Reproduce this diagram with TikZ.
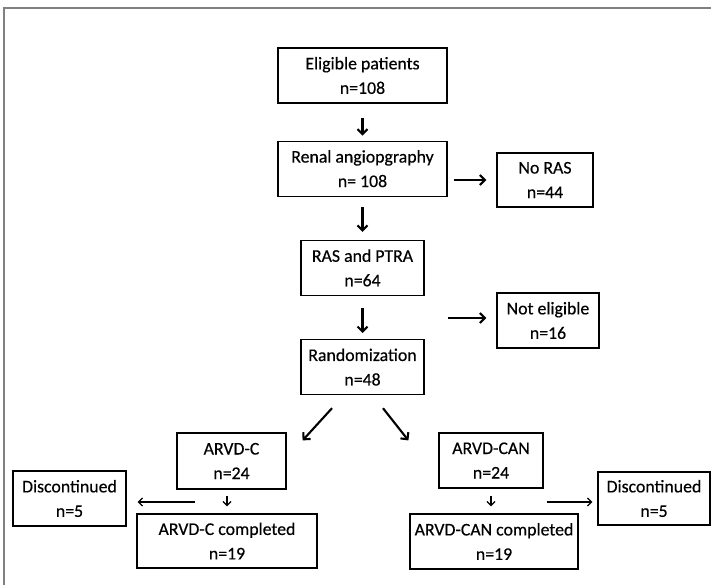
\documentclass[tikz,border=0pt]{standalone}
\usepackage{fontspec}
\setmainfont{Carlito}[FakeBold=0.4]
\usetikzlibrary{arrows.meta,positioning,calc}

\begin{document}
\begin{tikzpicture}[
    x=1pt, y=-1pt,
    every node/.style={font=\fontsize{17.8}{24.5}\selectfont},
    box/.style={
      rectangle, draw, line width=1.2pt,
      inner sep=0pt, align=center
    },
    arr/.style={-{Straight Barb[length=5pt,width=10pt]}, line width=2.1pt},
    arrthin/.style={-{Straight Barb[length=4pt,width=8pt]}, line width=1.3pt}
  ]
  \useasboundingbox (0,0) rectangle (711,585);

  % Frame
  \draw[gray, line width=2pt] (4,585) -- (4,8) -- (711,8);

  % Main column
  \node[box, minimum width=169pt, minimum height=55pt] (elig) at (362.5,75.5) {Eligible patients\\n=108};
  \node[box, minimum width=169pt, minimum height=55pt, below=37pt of elig] (renal) {Renal angiopgraphy\\n= 108};
  \node[box, minimum width=123pt, minimum height=55pt, below=43pt of renal] (ptra) {RAS and PTRA\\n=64};
  \node[box, minimum width=123pt, minimum height=55pt, below=43pt of ptra] (rand) {Randomization\\n=48};

  % Exclusions
  \node[box, minimum width=96pt, minimum height=54pt] (noras) at (545,180) {No RAS\\n=44};
  \node[box, minimum width=102pt, minimum height=55pt] (noteli) at (548,320.5) {Not eligible\\n=16};

  % Arms
  \node[box, minimum width=109pt, minimum height=56pt] (armc) at (231.5,461) {ARVD-C\\n=24};
  \node[box, minimum width=104pt, minimum height=55pt] (armcan) at (491,460.5) {ARVD-CAN\\n=24};
  \node[box, minimum width=180pt, minimum height=54pt] (compc) at (227,541) {ARVD-C completed\\n=19};
  \node[box, minimum width=168pt, minimum height=55pt] (compcan) at (494,541.5) {ARVD-CAN completed\\n=19};
  \node[box, minimum width=113pt, minimum height=55pt] (discl) at (69.5,498.5) {Discontinued\\n=5};
  \node[box, minimum width=112pt, minimum height=53pt] (discr) at (654,498.5) {Discontinued\\n=5};

  % Arrows - main path
  \draw[arr, shorten <=14pt, shorten >=5pt] (elig) -- (renal);
  \draw[arr, shorten <=10pt, shorten >=8pt] (renal) -- (ptra);
  \draw[arr, shorten <=12pt, shorten >=6pt] (ptra) -- (rand);
  \draw[arr, shorten <=6pt, shorten >=10pt] (renal.east |- noras.west) -- (noras.west);
  \draw[arr, shorten <=23pt, shorten >=10pt] ($(ptra.east |- noteli.west)+(0,-2.5)$) -- ($(noteli.west)+(0,-2.5)$);

  % Randomization -> arms
  \draw[arr] ($(rand.south)+(-30.5,13)$) -- ($(armc.north east)+(16,8)$);
  \draw[arr] ($(rand.south)+(20.5,13)$) -- ($(armcan.north west)+(-30,8)$);

  % Arms -> completed / discontinued
  \draw[arrthin, shorten <=6pt, shorten >=7pt] (compc.north |- armc.south) -- (compc.north);
  \draw[arrthin, shorten <=7pt, shorten >=7pt] (armcan.south) -- (armcan.south |- compcan.north);
  \draw[arrthin, shorten <=37pt, shorten >=11pt] ($(armc.south |- discl.east)+(0,3.5)$) -- ($(discl.east)+(0,3.5)$);
  \draw[arrthin, shorten <=3pt, shorten >=5pt] ($(armcan.east |- discr.west)+(0,3.5)$) -- ($(discr.west)+(0,3.5)$);

\end{tikzpicture}
\end{document}
